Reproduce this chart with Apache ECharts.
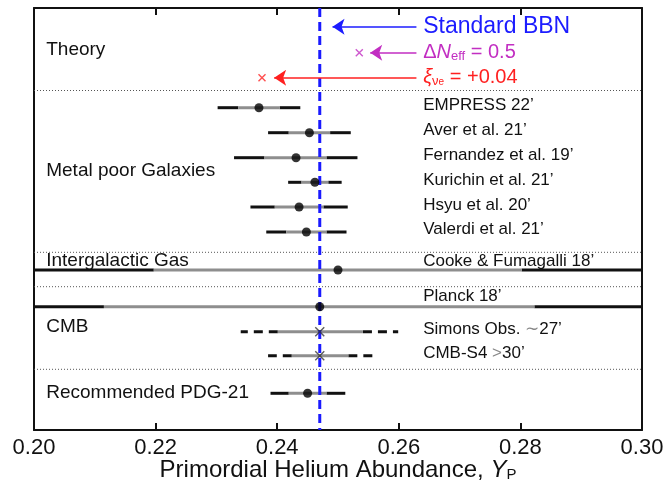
<!DOCTYPE html>
<html>
<head>
<meta charset="utf-8">
<script src="https://cdn.jsdelivr.net/npm/echarts@6/dist/echarts.min.js"></script>
<style>
html, body { margin: 0; padding: 0; background: #fff; }
#chart { width: 669px; height: 487px; }
</style>
</head>
<body>
<div id="chart"></div>
<script>
// ---- data ----
var bbnYp = 0.247;            // Standard BBN (vertical dashed line)
var xTicks = [0.20, 0.22, 0.24, 0.26, 0.28, 0.30];

// measurements: row position (0 = top of frame), centre, 1 sigma and 2 sigma ends
var obsRow  = [99.7, 124.7, 149.7, 174.3, 199, 224, 262, 298.7, 323.7, 347.7, 385.3];
var obsMid  = [0.2370, 0.2453, 0.2431, 0.2462, 0.2436, 0.2448, 0.2500, 0.2470, 0.2470, 0.2470, 0.2450];
var obsLo1  = [0.2336, 0.2419, 0.2379, 0.2440, 0.2396, 0.2415, 0.2197, 0.2115, 0.2401, 0.2424, 0.2419];
var obsHi1  = [0.2404, 0.2487, 0.2481, 0.2484, 0.2476, 0.2481, 0.2802, 0.2823, 0.2541, 0.2517, 0.2481];
var obsLo2  = [0.2302, 0.2385, 0.2329, 0.2418, 0.2356, 0.2382, 0.2000, 0.2000, 0.2340, 0.2385, 0.2389];
var obsHi2  = [0.2438, 0.2521, 0.2532, 0.2506, 0.2516, 0.2514, 0.3000, 0.3000, 0.2599, 0.2557, 0.2512];
var obsForecast = [0, 0, 0, 0, 0, 0, 0, 0, 1, 1, 0]; // dashed 2 sigma + cross marker

var obsLabels   = ["EMPRESS 22’", "Aver et al. 21’", "Fernandez et al. 19’", "Kurichin et al. 21’",
                   "Hsyu et al. 20’", "Valerdi et al. 21’", "Cooke & Fumagalli 18’", "Planck 18’",
                   "{t|Simons Obs. }{g|∼}{t|27’}", "{t|CMB-S4 }{g|>}{t|30’}"];
var obsLabelRow = [97.2, 122.2, 147.2, 172, 197, 221.5, 253, 288, 321, 345];

var groupLabels = ["Theory", "Metal poor Galaxies", "Intergalactic Gas", "CMB", "Recommended PDG-21"];
var groupRow    = [42, 162.7, 253, 319, 385];

var sepRow = [82.5, 244.3, 278.7, 361.3];

// theory arrows
var theoryRow   = [18.7, 44.7, 69.7];
var theoryFrom  = [0.2629, 0.2629, 0.2629];
var theoryTo    = [0.2491, 0.2553, 0.2395];
var theoryMark  = [null, 0.2535, 0.2375];
var theoryColor = ['#1c1cff', '#c22ec2', '#ff2020'];
var theoryText  = ['Standard BBN', '{a|Δ}{i|N}{s|eff}{a| = 0.5}', '{i|ξ}{s|ν}{ss|e}{a| = +0.04}'];

var labelX = 0.2640;   // right-hand text column
var groupX = 0.2020;   // left-hand text column

// ---- chart ----
var font = 'Liberation Sans, Arial, Helvetica, sans-serif';
var ink = '#111';
var crossPath = 'path://M0,0L10,10M10,0L0,10';

var barData = [];
var dotData = [];
for (var i = 0; i < obsRow.length; i++) {
    barData.push([obsRow[i], obsLo2[i], obsLo1[i], obsHi1[i], obsHi2[i], obsForecast[i]]);
    if (obsForecast[i]) {
        dotData.push({value: [obsMid[i], obsRow[i]], symbol: crossPath, symbolSize: 9,
            itemStyle: {color: 'none', borderColor: '#333', borderWidth: 1.4}});
    } else {
        dotData.push({value: [obsMid[i], obsRow[i]]});
    }
}
for (var t = 0; t < theoryRow.length; t++) {
    if (theoryMark[t] !== null) {
        dotData.push({value: [theoryMark[t], theoryRow[t]], symbol: crossPath, symbolSize: 7,
            itemStyle: {color: 'none', borderColor: theoryColor[t], borderWidth: 1.4}});
    }
}

var textData = [];
for (var k = 0; k < obsLabels.length; k++) {
    textData.push({value: [labelX, obsLabelRow[k]], label: {formatter: obsLabels[k]}});
}
for (var g = 0; g < groupLabels.length; g++) {
    textData.push({value: [groupX, groupRow[g]], label: {formatter: groupLabels[g], fontSize: 19}});
}
var richTheory = function (c, size) {
    return {
        a:  {color: c, fontSize: size, fontFamily: font},
        i:  {color: c, fontSize: size, fontFamily: font, fontStyle: 'italic'},
        s:  {color: c, fontSize: 13, fontFamily: font, verticalAlign: 'bottom', lineHeight: 10},
        ss: {color: c, fontSize: 10, fontFamily: font, verticalAlign: 'bottom', lineHeight: 2}
    };
};
for (var m = 0; m < theoryRow.length; m++) {
    var sz = m === 0 ? 23 : 20;
    textData.push({value: [labelX, theoryRow[m]], label: {
        formatter: theoryText[m], color: theoryColor[m], fontSize: sz, rich: richTheory(theoryColor[m], sz)}});
}

var arrowData = [];
for (var a = 0; a < theoryRow.length; a++) {
    arrowData.push({coords: [[theoryFrom[a], theoryRow[a]], [theoryTo[a], theoryRow[a]]],
        lineStyle: {color: theoryColor[a]}});
}

// straight guide lines drawn as ordinary line series
var guideSeries = [];
sepRow.forEach(function (r) {
    guideSeries.push({
        type: 'line', z: 1, silent: true, symbol: 'none',
        lineStyle: {color: '#555', width: 1, type: [1, 2]},
        data: [[0.2, r], [0.3, r]]
    });
});
guideSeries.push({
    type: 'line', z: 3, silent: true, symbol: 'none',
    lineStyle: {color: '#1a1aff', width: 3, type: [9, 5]},
    data: [[bbnYp, 0], [bbnYp, 422]]
});

var frameAxis = {
    axisLine: {show: true, onZero: false, lineStyle: {color: ink, width: 2}},
    splitLine: {show: false}
};

var chart = echarts.init(document.getElementById('chart'));
chart.setOption({
    animation: false,
    backgroundColor: '#fff',
    grid: {left: 34, right: 27, top: 8, bottom: 57, outerBoundsMode: 'none', containLabel: false},
    xAxis: [echarts.util.merge({
        type: 'value', min: 0.2, max: 0.3, interval: 0.02, position: 'bottom',
        axisTick: {show: true, inside: true, length: 7, lineStyle: {color: ink, width: 2}},
        axisLabel: {fontSize: 22, color: ink, fontFamily: font, margin: 7,
            formatter: function (v) { return v.toFixed(2); }},
        name: '{n|Primordial Helium Abundance, }{i|Y}{s|P}',
        nameLocation: 'middle', nameGap: 28, nameMoveOverlap: false,
        nameTextStyle: {color: ink, fontFamily: font, fontSize: 24, rich: {
            n: {fontSize: 24, color: ink, fontFamily: font},
            i: {fontSize: 24, color: ink, fontFamily: font, fontStyle: 'italic'},
            s: {fontSize: 15, color: ink, fontFamily: font, verticalAlign: 'bottom', lineHeight: 10}
        }}
    }, frameAxis), echarts.util.merge({
        type: 'value', min: 0.2, max: 0.3, interval: 0.02, position: 'top',
        axisTick: {show: true, inside: true, length: 7, lineStyle: {color: ink, width: 2}},
        axisLabel: {show: false}
    }, frameAxis)],
    yAxis: [echarts.util.merge({
        type: 'value', min: 0, max: 422, inverse: true, position: 'left',
        axisTick: {show: false}, axisLabel: {show: false}
    }, frameAxis), echarts.util.merge({
        type: 'value', min: 0, max: 422, inverse: true, position: 'right',
        axisTick: {show: false}, axisLabel: {show: false}
    }, frameAxis)],
    series: guideSeries.concat([
        {   // error bars
            type: 'custom', z: 2, silent: true, clip: true,
            data: barData,
            renderItem: function (params, api) {
                var r = api.value(0);
                var p2l = api.coord([api.value(1), r]);
                var p1l = api.coord([api.value(2), r]);
                var p1h = api.coord([api.value(3), r]);
                var p2h = api.coord([api.value(4), r]);
                var dashed = api.value(5) === 1;
                var black = {stroke: '#111', lineWidth: 3, lineDash: dashed ? [9, 6] : null};
                return {type: 'group', children: [
                    {type: 'line', shape: {x1: p1l[0], y1: p1l[1], x2: p2l[0], y2: p2l[1]}, style: black},
                    {type: 'line', shape: {x1: p1h[0], y1: p1h[1], x2: p2h[0], y2: p2h[1]}, style: black},
                    {type: 'line', shape: {x1: p1l[0], y1: p1l[1], x2: p1h[0], y2: p1h[1]},
                        style: {stroke: '#8e8e8e', lineWidth: 3}}
                ]};
            }
        },
        {   // theory arrows
            type: 'lines', coordinateSystem: 'cartesian2d', z: 4, silent: true,
            symbol: ['none', 'arrow'], symbolSize: [7, 12],
            lineStyle: {width: 1.5, opacity: 1},
            data: arrowData
        },
        {   // central values
            type: 'scatter', z: 5, silent: true,
            symbol: 'circle', symbolSize: 9,
            itemStyle: {color: '#000'},
            data: dotData
        },
        {   // text
            type: 'scatter', z: 6, silent: true,
            symbolSize: 0.1, itemStyle: {color: '#fff', opacity: 1},
            label: {show: true, position: 'right', distance: 0, align: 'left', verticalAlign: 'middle',
                fontSize: 17, color: ink, fontFamily: font, opacity: 1,
                rich: {t: {fontSize: 17, color: ink, fontFamily: font},
                       g: {fontSize: 17, color: '#888', fontFamily: font}}},
            data: textData
        }
    ])
});
</script>
</body>
</html>
